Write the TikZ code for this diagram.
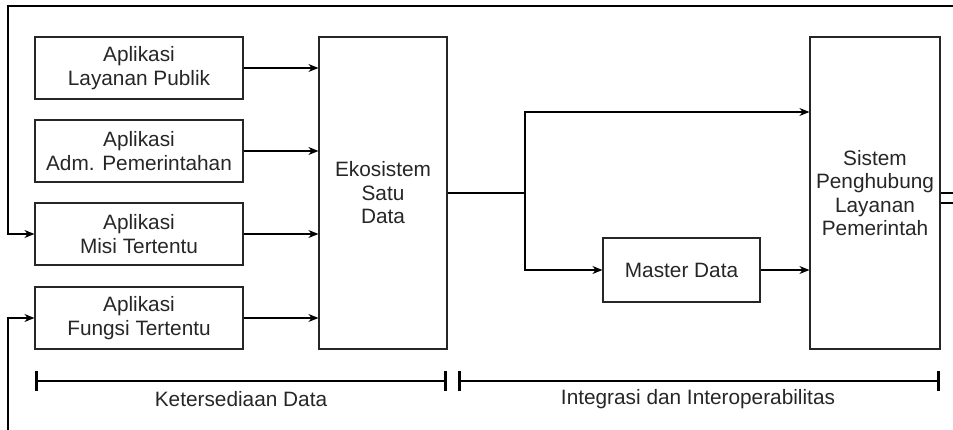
\documentclass[tikz,border=0pt]{standalone}
\usepackage{fontspec}
\setmainfont{Liberation Sans}
\usetikzlibrary{arrows.meta}

\tikzset{
  appbox/.style={draw=black!85, line width=1.2pt, minimum width=208pt, minimum height=62pt, align=center, inner sep=0pt},
  tallbox/.style={draw=black!85, line width=1.2pt, minimum width=128pt, minimum height=312pt, align=center, inner sep=0pt},
  arr/.style={line width=1.2pt, -{Stealth[length=10pt,width=8pt]}},
  plain/.style={line width=1.2pt},
  span/.style={line width=2.4pt, {Bar[width=20pt,line width=3pt]}-{Bar[width=20pt,line width=3pt]}},
}

\begin{document}
\begin{tikzpicture}[x=1pt,y=-1pt,font=\fontsize{20.8}{23.5}\selectfont,text=black!85]
\useasboundingbox (0,0) rectangle (953,430);
% applications
\node[appbox] (publik) at (139,68) {Aplikasi\\Layanan Publik};
\node[appbox] (adm) at (139,151) {Aplikasi\\Adm. Pemerintahan};
\node[appbox] (misi) at (139,234) {Aplikasi\\Misi Tertentu};
\node[appbox] (fungsi) at (139,318) {Aplikasi\\Fungsi Tertentu};
% middle and right
\node[tallbox] (eko) at (383,193) {Ekosistem\\Satu\\Data};
\node[appbox, minimum width=157pt, minimum height=64pt] (master) at (681.5,270) {Master Data};
\node[tallbox, minimum width=130pt] (splp) at (875,193) {Sistem\\Penghubung\\Layanan\\Pemerintah};

\foreach \a in {publik,adm,misi,fungsi}
  \draw[arr] (\a.east) -- (\a.east -| eko.west);

\coordinate (split) at (525,193);
\coordinate (up) at (525,112);
\coordinate (down) at (525,270);
\draw[plain] (eko.east) -- (split);
\draw[arr] (split) -- (up) -- (up -| splp.west);
\draw[arr] (split) -- (down) -- (master.west);
\draw[arr] (master.east) -- (master.east -| splp.west);

% loops at the edges
\coordinate (topR) at (953,6);
\coordinate (topL) at (8,6);
\coordinate (botL) at (8,430);
\coordinate (outA) at (953,193);
\coordinate (outB) at (953,203);
\draw[arr] (topR) -- (topL) |- (misi.west);
\draw[arr] (botL) |- (fungsi.west);
\draw[plain] (splp.east |- outA) -- (outA);
\draw[plain] (splp.east |- outB) -- (outB);

% spans
\coordinate (s1) at (35,381);
\coordinate (s2) at (447,381);
\coordinate (s3) at (458,381);
\coordinate (s4) at (940,381);
\draw[span] (s1) -- (s2);
\draw[span] (s3) -- (s4);
\node (ket) at (241,399) {Ketersediaan Data};
\node (integ) at (698,399) {Integrasi dan Interoperabilitas};
\end{tikzpicture}
\end{document}
